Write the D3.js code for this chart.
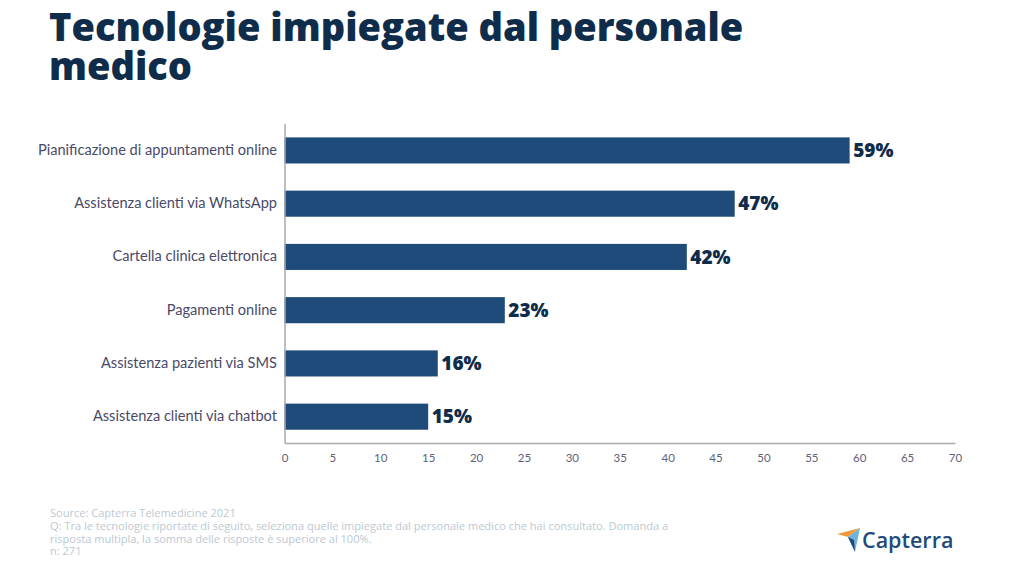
<!DOCTYPE html>
<html><head><meta charset="utf-8">
<script src="https://cdn.jsdelivr.net/npm/d3@7"></script>
<style>html,body{margin:0;padding:0;background:#fff}svg{display:block}
text{font-family:"Open Sans",sans-serif}</style></head><body>
<svg id="c" width="1024" height="575"></svg>
<script>
const categories=["Pianificazione di appuntamenti online","Assistenza clienti via WhatsApp","Cartella clinica elettronica","Pagamenti online","Assistenza pazienti via SMS","Assistenza clienti via chatbot"];
const values=[59,47,42,23,16,15];
const xTicks=d3.range(0,71,5);
const titleLines=["Tecnologie impiegate dal personale","medico"];
const footLines=["Source: Capterra Telemedicine 2021","Q: Tra le tecnologie riportate di seguito, seleziona quelle impiegate dal personale medico che hai consultato. Domanda a","risposta multipla, la somma delle risposte è superiore al 100%.","n: 271"];
const svg=d3.select("#c");
const x=d3.scaleLinear().domain([0,70]).range([284.5,955]);
const y=d3.scaleBand().domain(categories).range([123.5,443]).paddingInner(0.51).paddingOuter(0.255);
svg.append("g").selectAll("text").data(titleLines).join("text")
 .attr("x",49).attr("y",(d,i)=>40.5+i*39.5).attr("font-size",38).attr("font-weight",800).attr("fill","#0f2d4a").text(d=>d);
svg.append("g").selectAll("rect").data(values).join("rect")
 .attr("x",x(0)).attr("y",(d,i)=>y(categories[i])+0.3).attr("width",d=>x(d)-x(0)).attr("height",y.bandwidth())
 .attr("fill","#1f4b7a");
svg.append("g").selectAll("text").data(values).join("text")
 .attr("x",d=>x(d)+3.5).attr("y",(d,i)=>y(categories[i])+y.bandwidth()/2+7)
 .attr("font-size",19).attr("font-weight",800).attr("fill","#0f2d4a").text(d=>d+"%");
const ax=svg.append("g").attr("transform","translate(0,443)")
 .call(d3.axisBottom(x).tickValues(xTicks).tickSize(0).tickPadding(11));
ax.select(".domain").attr("stroke","#a9a9a9").attr("stroke-width",1.5);
ax.selectAll("text").attr("font-size",11.5).attr("fill","#5f5f78").style("font-family",'Lato,sans-serif');
const ay=svg.append("g").attr("transform","translate(284.5,0)")
 .call(d3.axisLeft(y).tickSize(0).tickPadding(7.5));
ay.select(".domain").attr("stroke","#a9a9a9").attr("stroke-width",1.5);
ay.selectAll("text").attr("font-size",14.6).attr("fill","#4a4a68").style("font-family",'Lato,sans-serif');
svg.append("g").selectAll("text").data(footLines).join("text")
 .attr("x",50).attr("y",(d,i)=>517+i*12.8).attr("font-size",11.05).attr("fill","#bcc9d2").text(d=>d);
const logo=svg.append("g");
logo.append("path").attr("d","M837 534L860 528L848 537Z").attr("fill","#f09a3e");
logo.append("path").attr("d","M848 537L860 528L855 552Z").attr("fill","#6fb3dc");
logo.append("path").attr("d","M848 537L854 540L855 552Z").attr("fill","#1f4b7a");
logo.append("text").attr("x",862).attr("y",548).attr("font-size",21.5).attr("font-weight",600).attr("fill","#1f4b7a").text("Capterra");
</script></body></html>
